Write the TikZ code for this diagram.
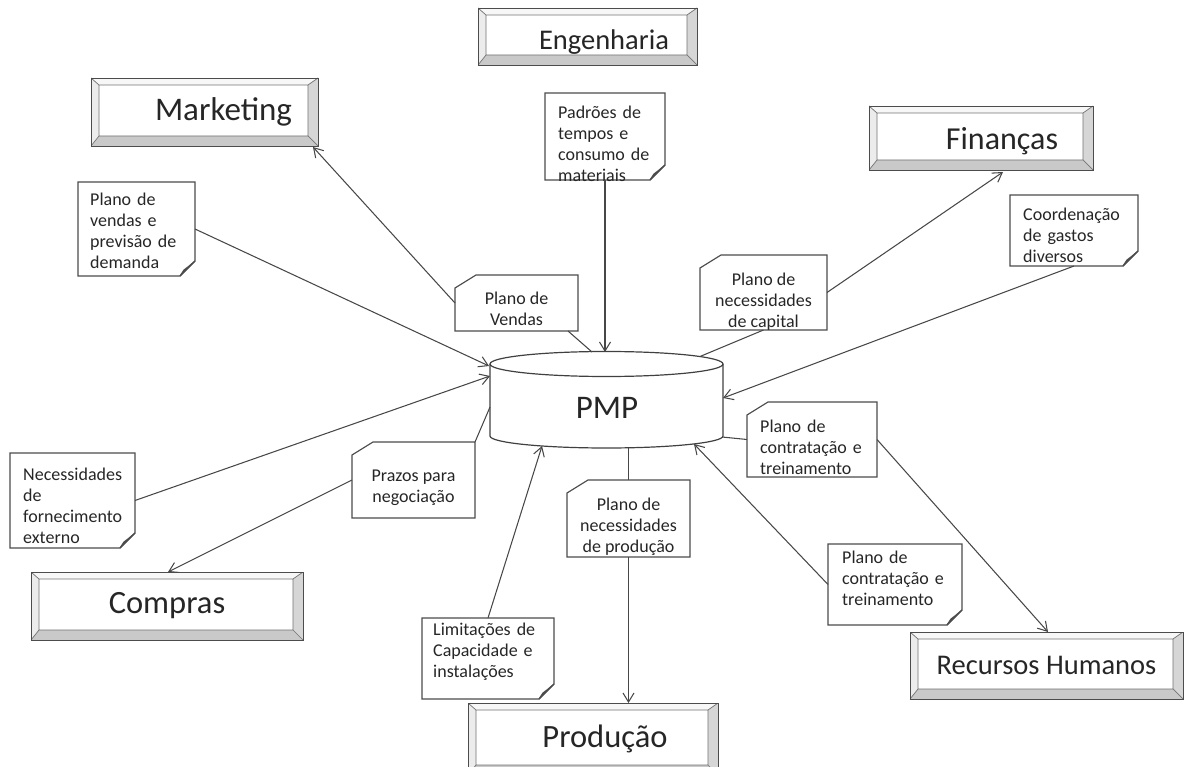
\documentclass[tikz,border=0pt]{standalone}
\usepackage{fontspec}
\setmainfont{Carlito}
\usetikzlibrary{arrows.meta,calc}
\definecolor{edge}{HTML}{474747}
\definecolor{ink}{HTML}{262626}
\newcommand\notefont{\fontsize{18}{21}\selectfont}
\newcommand\boxfont[1]{\fontsize{#1}{#1}\selectfont}

% outline of a note with a folded bottom-right corner
\newcommand\foldnote[1]{%
  \draw[noteedge] (#1.north west) -- (#1.north east) -- ([yshift=15pt]#1.south east)
    -- ([xshift=-15pt]#1.south east) -- (#1.south west) -- cycle;
  \filldraw[noteedge, fill=gray!45] ([yshift=15pt]#1.south east)
    .. controls ([shift={(-7pt,9pt)}]#1.south east) .. ([shift={(-11pt,6pt)}]#1.south east)
    -- ([xshift=-15pt]#1.south east) -- cycle;}
% outline of a note with a cut top-left corner
\newcommand\snipnote[1]{%
  \draw[noteedge] ([xshift=21pt]#1.north west) -- (#1.north east) -- (#1.south east)
    -- (#1.south west) -- ([yshift=-13pt]#1.north west) -- cycle;}

\begin{document}
\begin{tikzpicture}[x=1pt,y=-1pt,
  link/.style={draw=edge, line width=1.05pt},
  arr/.style={link, -{Straight Barb[length=9pt,width=11pt,line width=1.05pt]}},
  noteedge/.style={draw=black!70, line width=1.15pt, line join=miter},
  notebox/.style={draw=none, anchor=north west, inner sep=0pt, outer sep=0pt},
  ntext/.style={font=\notefont, text=ink, inner sep=0pt, align=left},
  ctext/.style={font=\notefont, text=ink, inner sep=0pt, align=center},
  bevelbox/.style={draw=black!70, line width=0.9pt, fill=white, anchor=north west,
    inner sep=0pt, outer sep=0pt, text=ink,
    path picture={
      \path (path picture bounding box.north west) coordinate (bv1)
            (path picture bounding box.north east) coordinate (bv2)
            (path picture bounding box.south east) coordinate (bv3)
            (path picture bounding box.south west) coordinate (bv4);
      \path ([shift={(8pt,-7pt)}]bv1) coordinate (iv1)
            ([shift={(-10pt,-7pt)}]bv2) coordinate (iv2)
            ([shift={(-10pt,10pt)}]bv3) coordinate (iv3)
            ([shift={(8pt,10pt)}]bv4) coordinate (iv4);
      \fill[gray!6] (bv1) -- (bv2) -- (iv2) -- (iv1) -- cycle;
      \fill[gray!15] (bv1) -- (iv1) -- (iv4) -- (bv4) -- cycle;
      \fill[gray!42] (bv4) -- (iv4) -- (iv3) -- (bv3) -- cycle;
      \fill[gray!32] (bv2) -- (bv3) -- (iv3) -- (iv2) -- cycle;
      \draw[black!55, line width=0.7pt] (iv1) rectangle (iv3)
        (bv1) -- (iv1) (bv2) -- (iv2) (bv3) -- (iv3) (bv4) -- (iv4);
    }},
]
\useasboundingbox (0,0) rectangle (1189,767);
\clip (0,0) rectangle (1189,767);

% departments
\node[bevelbox, font=\boxfont{28.5}, minimum width=219pt, minimum height=57pt] (eng) at (478,8)
  {\hspace*{33pt}\raisebox{-6pt}[\height][\depth]{Engenharia}};
\node[bevelbox, font=\boxfont{33}, minimum width=227pt, minimum height=68pt] (mkt) at (91,78)
  {\hspace*{38pt}Marketing};
\node[bevelbox, font=\boxfont{32}, minimum width=224pt, minimum height=64pt] (fin) at (869,106)
  {\hspace*{42pt}\raisebox{-3pt}[\height][\depth]{Finanças}};
\node[bevelbox, font=\boxfont{32.5}, minimum width=272pt, minimum height=68pt] (com) at (31,572) {Compras};
\node[bevelbox, font=\boxfont{32.5}, minimum width=250pt, minimum height=72pt] (prod) at (468,703)
  {\hspace*{24pt}Produção};
\node[bevelbox, font=\boxfont{28.5}, minimum width=273pt, minimum height=67pt] (rh) at (910,632) {Recursos Humanos};

% central database
\draw[line width=1.2pt, draw=black!75] (490,364) -- (490,436)
  arc[start angle=180, end angle=360, x radius=116.5pt, y radius=12pt] -- (723,364);
\draw[line width=1.2pt, draw=black!75] (606.5,364) ellipse[x radius=116.5pt, y radius=12.5pt];
\node[font=\fontsize{33}{36}\selectfont, text=ink, inner sep=0pt] (pmp) at (607,408) {PMP};

% notes with folded corner
\node[notebox, minimum width=117pt, minimum height=94pt] (n1) at (78,182) {};
\node[notebox, minimum width=120pt, minimum height=87pt] (n2) at (545,93) {};
\node[notebox, minimum width=128pt, minimum height=71pt] (n3) at (1010,195) {};
\node[notebox, minimum width=134pt, minimum height=81pt] (n4) at (828,544) {};
\node[notebox, minimum width=125pt, minimum height=95pt] (n5) at (10,453) {};
\node[notebox, minimum width=132pt, minimum height=81pt] (n6) at (422,618) {};
\foreach \n in {n1,n2,n3,n4,n5,n6} {\foldnote{\n}}

% notes with cut corner
\node[notebox, minimum width=123pt, minimum height=56pt] (s1) at (455,275) {};
\node[notebox, minimum width=127pt, minimum height=75pt] (s2) at (700,255) {};
\node[notebox, minimum width=130pt, minimum height=75pt] (s3) at (747,402) {};
\node[notebox, minimum width=123pt, minimum height=76pt] (s4) at (352,442) {};
\node[notebox, minimum width=123pt, minimum height=77pt] (s5) at (567,480) {};
\foreach \n in {s1,s2,s3,s4,s5} {\snipnote{\n}}

% note texts
\node[ntext, anchor=west, text width=104pt] (n1t) at (90,231) {Plano de\\vendas e\\previsão de\\demanda};
\node[ntext, anchor=west, text width=104pt] (n2t) at (558,144) {Padrões de\\tempos e\\consumo de\\materiais};
\node[ntext, anchor=west, text width=112pt] (n3t) at (1023,235) {Coordenação\\de gastos\\diversos};
\node[ntext, anchor=west, text width=118pt] (n4t) at (842,578) {Plano de\\contratação e\\treinamento};
\node[ntext, anchor=west, text width=110pt] (n5t) at (23,506) {Necessidades\\de\\fornecimento\\externo};
\node[ntext, anchor=west, text width=118pt] (n6t) at (433,652) {Limitações de\\Capacidade e\\instalações};
\node[ctext] (s1t) at (516.5,309) {Plano de\\Vendas};
\node[ctext] (s2t) at (763.5,302) {Plano de\\necessidades\\de capital};
\node[ntext, anchor=west, text width=114pt] (s3t) at (760,447) {Plano de\\contratação e\\treinamento};
\node[ctext] (s4t) at (413.5,487.5) {Prazos para\\negociação};
\node[ctext] (s5t) at (628.5,527) {Plano de\\necessidades\\de produção};

% attachment points on the cylinder and the department boxes
\coordinate (pVendas) at (489,366);
\coordinate (pNec) at (490,376);
\coordinate (pMkt) at (592,352);
\coordinate (pEng) at (605,352);
\coordinate (pFin) at (700,356.5);
\coordinate (pCoord) at (723,398);
\coordinate (pRH) at (722,437);
\coordinate (pRHin) at (694,444);
\coordinate (pProd) at (628.5,447.8);
\coordinate (pLim) at (542,446);
\coordinate (pCom) at (490,407);
\coordinate (s1b) at (568,331);
\coordinate (mktTip) at ($(mkt.south east)+(-5,1)$);
\coordinate (finTip) at ($(fin.south west)+(134,2)$);
\coordinate (rhTip) at ($(rh.north west)+(138,0)$);
\coordinate (comTip) at ($(com.north west)+(137,0)$);

% flows
\draw[arr] (n1.east) -- (pVendas);
\draw[arr] (n2.south) -- (pEng);
\draw[link] (pMkt) -- (s1b);
\draw[arr] (s1.west) -- (mktTip);
\draw[link] (pFin) -- (s2.south);
\draw[arr] (s2.east) -- (finTip);
\draw[arr] (n3.south) -- (pCoord);
\draw[link] (pRH) -- (s3.west);
\draw[arr] (s3.east) -- (rhTip);
\draw[arr] (n4.west) -- (pRHin);
\draw[arr] (n5.east) -- (pNec);
\draw[link] (pCom) -- (s4.north east);
\draw[arr] (s4.west) -- (comTip);
\draw[link] (pProd) -- (s5.north);
\draw[arr] (s5.south) -- (s5.south |- prod.north);
\draw[arr] (n6.north) -- (pLim);
\end{tikzpicture}
\end{document}
